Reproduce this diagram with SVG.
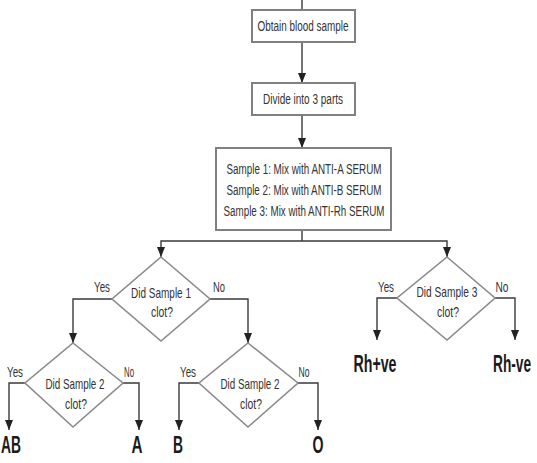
<svg xmlns="http://www.w3.org/2000/svg" width="537" height="463" viewBox="0 0 537 463">
<style>
.box{fill:#fff;stroke:#808080;stroke-width:2}
.dia{fill:#fff;stroke:#8a8a8a;stroke-width:1.6}
.con{fill:none;stroke:#3a3a3a;stroke-width:1.4}
text{font-family:"Liberation Sans",Arial,sans-serif;fill:#333;text-anchor:middle}
.t{font-size:15.5px}
.d{font-size:15px}
.l{font-size:14px}
.r{font-size:23px;font-weight:bold;fill:#1a1a1a}
</style>
<defs>
<marker id="ad" markerUnits="userSpaceOnUse" markerWidth="10" markerHeight="8" viewBox="0 0 10 8" refX="10" refY="4" orient="auto">
<path d="M0,0 L10,4 L0,8 Z" fill="#222"/>
</marker>
</defs>
<rect width="537" height="463" fill="#fff"/>
<g id="connectors">
<path class="con" d="M302,0 V10"/>
<path class="con" d="M302,42 V83" marker-end="url(#ad)"/>
<path class="con" d="M302,115 V148" marker-end="url(#ad)"/>
<path class="con" d="M302,230 V241"/>
<path class="con" d="M302,241 H161 V257" marker-end="url(#ad)"/>
<path class="con" d="M302,241 H447 V257" marker-end="url(#ad)"/>
<path class="con" d="M112,299 H73 V343" marker-end="url(#ad)"/>
<path class="con" d="M210,299 H248 V343" marker-end="url(#ad)"/>
<path class="con" d="M25,383 H9 V430" marker-end="url(#ad)"/>
<path class="con" d="M123,383 H139 V430" marker-end="url(#ad)"/>
<path class="con" d="M199,383 H179 V430" marker-end="url(#ad)"/>
<path class="con" d="M298,383 H318 V430" marker-end="url(#ad)"/>
<path class="con" d="M397,298 H377 V340" marker-end="url(#ad)"/>
<path class="con" d="M495,298 H515 V340" marker-end="url(#ad)"/>
</g>
<g id="obtain">
<rect class="box" x="252" y="10" width="103" height="32"/>
<text class="t" x="303" y="31" textLength="91" lengthAdjust="spacingAndGlyphs">Obtain blood sample</text>
</g>
<g id="divide">
<rect class="box" x="252" y="83" width="103" height="32"/>
<text class="t" x="303" y="104" textLength="80" lengthAdjust="spacingAndGlyphs">Divide into 3 parts</text>
</g>
<g id="mix">
<rect class="box" x="216" y="148" width="175" height="82"/>
<text class="t" x="304" y="174" textLength="155" lengthAdjust="spacingAndGlyphs">Sample 1: Mix with ANTI-A SERUM</text>
<text class="t" x="304" y="195" textLength="155" lengthAdjust="spacingAndGlyphs">Sample 2: Mix with ANTI-B SERUM</text>
<text class="t" x="304" y="216" textLength="161" lengthAdjust="spacingAndGlyphs">Sample 3: Mix with ANTI-Rh SERUM</text>
</g>
<g id="q1">
<polygon class="dia" points="161,257 210,299 161,341 112,299"/>
<text class="d" x="161" y="298" textLength="60" lengthAdjust="spacingAndGlyphs">Did Sample 1</text>
<text class="d" x="162" y="317" textLength="22" lengthAdjust="spacingAndGlyphs">clot?</text>
<text class="l" x="102" y="292" textLength="16" lengthAdjust="spacingAndGlyphs">Yes</text>
<text class="l" x="219" y="292" textLength="12" lengthAdjust="spacingAndGlyphs">No</text>
</g>
<g id="q2a">
<polygon class="dia" points="73,343 123,383 73,427 25,383"/>
<text class="d" x="75" y="389" textLength="59" lengthAdjust="spacingAndGlyphs">Did Sample 2</text>
<text class="d" x="76" y="409" textLength="22" lengthAdjust="spacingAndGlyphs">clot?</text>
<text class="l" x="15" y="377" textLength="16" lengthAdjust="spacingAndGlyphs">Yes</text>
<text class="l" x="129" y="377" textLength="10" lengthAdjust="spacingAndGlyphs">No</text>
</g>
<g id="q2b">
<polygon class="dia" points="248,343 298,383 248,427 199,383"/>
<text class="d" x="250" y="389" textLength="59" lengthAdjust="spacingAndGlyphs">Did Sample 2</text>
<text class="d" x="251" y="409" textLength="22" lengthAdjust="spacingAndGlyphs">clot?</text>
<text class="l" x="188" y="377" textLength="16" lengthAdjust="spacingAndGlyphs">Yes</text>
<text class="l" x="304" y="377" textLength="11" lengthAdjust="spacingAndGlyphs">No</text>
</g>
<g id="q3">
<polygon class="dia" points="447,257 495,298 447,340 397,298"/>
<text class="d" x="447" y="297" textLength="61" lengthAdjust="spacingAndGlyphs">Did Sample 3</text>
<text class="d" x="448" y="317" textLength="22" lengthAdjust="spacingAndGlyphs">clot?</text>
<text class="l" x="386" y="292" textLength="16" lengthAdjust="spacingAndGlyphs">Yes</text>
<text class="l" x="502" y="292" textLength="13" lengthAdjust="spacingAndGlyphs">No</text>
</g>
<g id="results">
<text class="r" x="11" y="453" textLength="20" lengthAdjust="spacingAndGlyphs">AB</text>
<text class="r" x="137" y="453" textLength="11" lengthAdjust="spacingAndGlyphs">A</text>
<text class="r" x="178" y="453" textLength="10" lengthAdjust="spacingAndGlyphs">B</text>
<text class="r" x="318" y="453" textLength="11" lengthAdjust="spacingAndGlyphs">O</text>
<text class="r" x="375" y="372" textLength="43" lengthAdjust="spacingAndGlyphs">Rh+ve</text>
<text class="r" x="512" y="372" textLength="38" lengthAdjust="spacingAndGlyphs">Rh-ve</text>
</g>
</svg>
